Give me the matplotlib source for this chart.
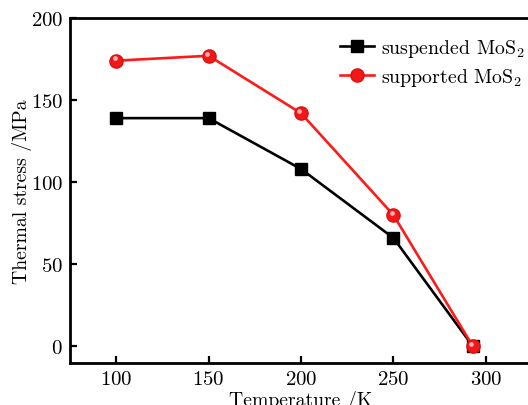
import matplotlib
matplotlib.use("Agg")
import matplotlib.pyplot as plt
from matplotlib.transforms import offset_copy

temperature = [100, 150, 200, 250, 293]
suspended = [139, 139, 108, 66, 0]
supported = [174, 177, 142, 80, 0]
x_ticks = [100, 150, 200, 250, 300]
y_ticks = [0, 50, 100, 150, 200]

plt.rcParams['font.family'] = ['cmr10', 'DejaVu Serif']
plt.rcParams['mathtext.fontset'] = 'cm'
plt.rcParams['axes.formatter.use_mathtext'] = True

fig = plt.figure(figsize=(5.28, 4.06), dpi=100)
ax = fig.add_axes([0.1326, 0.1042, 0.875, 0.849])

ax.plot(temperature, suspended, color='black', lw=1.9, marker='s', ms=8.3,
        mfc='black', mec='black', label='suspended MoS$_2$', zorder=3)
ax.plot(temperature, supported, color='#ff1a1a', lw=1.9, marker='o', ms=9.5,
        mfc='#f01818', mec='#e01010', label='supported MoS$_2$', zorder=4)
hl = offset_copy(ax.transData, fig=fig, x=-1.2, y=1.6, units='points')
ax.plot(temperature, supported, ls='none', marker='o', ms=3.4, mfc='#ffb0b0',
        mec='none', transform=hl, zorder=5)

ax.set_xlim(75, 325)
ax.set_ylim(-10, 200)
ax.set_xticks(x_ticks)
ax.set_yticks(y_ticks)
ax.tick_params(direction='in', length=5, width=1.6, labelsize=15, pad=5)
for s in ax.spines.values():
    s.set_linewidth(2.0)

ax.set_xlabel('Temperature /K', fontsize=14.2, labelpad=2)
ax.set_ylabel('Thermal stress /MPa', fontsize=14.2, labelpad=-1)

ax.legend(loc='upper left', bbox_to_anchor=(0.584, 0.946), frameon=False,
          fontsize=14.3, handlelength=1.7, handletextpad=0.35, labelspacing=0.35,
          borderaxespad=0, borderpad=0)

fig.savefig('out.png', dpi=100)
